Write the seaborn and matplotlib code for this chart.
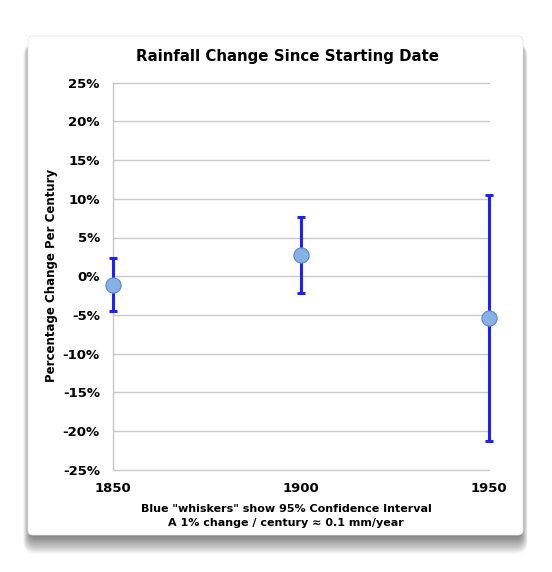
import matplotlib
matplotlib.use("Agg")
import matplotlib.pyplot as plt
from matplotlib.patches import FancyBboxPatch
import pandas as pd
import seaborn as sns

# data
start_years = [1850, 1900, 1950]
change_pct = [-1.1, 2.7, -5.4]
ci_low = [-4.5, -2.2, -21.3]
ci_high = [2.3, 7.7, 10.5]
y_ticks = [-25, -20, -15, -10, -5, 0, 5, 10, 15, 20, 25]

sns.set_style("white")
plt.rcParams['font.family'] = ['DejaVu Sans']
plt.rcParams['text.color'] = 'black'
plt.rcParams['xtick.color'] = 'black'
plt.rcParams['ytick.color'] = 'black'

df = pd.DataFrame({"year": start_years, "change": change_pct,
                   "low": ci_low, "high": ci_high})

W, H = 552, 572
fig = plt.figure(figsize=(W / 100, H / 100), dpi=100)

# card with soft drop shadow, drawn in pixel coordinates
bg = fig.add_axes([0, 0, 1, 1], zorder=0)
bg.set_xlim(0, W)
bg.set_ylim(H, 0)
bg.axis('off')
cx, cy, cw, ch = 28, 36, 495, 499
for i in range(18):
    bg.add_patch(FancyBboxPatch((cx + 3 - i * 0.45, cy + 8), cw - 6 + i * 0.9, ch - 8 + i * 1.1,
                                boxstyle="round,pad=0,rounding_size=%.1f" % (4 + i * 0.5),
                                fc='black', ec='none', alpha=0.035))
bg.add_patch(FancyBboxPatch((cx, cy), cw, ch,
                            boxstyle="round,pad=0,rounding_size=5",
                            fc='white', ec='#e4e4e4', lw=0.6))

# plot area
ax = fig.add_axes([113 / W, 1 - 469.7 / H, 376 / W, 387 / H], zorder=1)
ax.set_facecolor('none')

eb = ax.errorbar(df["year"], df["change"],
                 yerr=[df["change"] - df["low"], df["high"] - df["change"]],
                 fmt='none', ecolor='#1f1fff', elinewidth=2.2,
                 capsize=3, capthick=2.2, zorder=4)
for art in eb.get_children():
    art.set_clip_on(False)

sns.scatterplot(data=df, x="year", y="change", s=120, color='#86b0e6',
                edgecolor='#5a88c6', linewidth=0.8, zorder=5,
                clip_on=False, ax=ax, legend=False)

ax.set_xlim(1850, 1950)
ax.set_ylim(-25, 25)
ax.set_yticks(y_ticks)
ax.set_yticklabels([f"{v}%" for v in y_ticks], fontweight='bold', fontsize=9.5)
ax.set_xticks(start_years)
ax.set_xticklabels([str(v) for v in start_years], fontweight='bold', fontsize=9.5)
ax.tick_params(axis='y', length=3, color='#c8c8c8', width=1, pad=6.5, labelcolor='black')
ax.tick_params(axis='x', length=0, pad=9, labelcolor='black')
ax.yaxis.grid(True, color='#c8c8c8', lw=1)
ax.xaxis.grid(False)
for line in ax.get_ygridlines():
    line.set_clip_on(False)
for side in ['top', 'right', 'bottom']:
    ax.spines[side].set_visible(False)
ax.spines['left'].set_color('#c8c8c8')
ax.spines['left'].set_linewidth(1)
ax.set_xlabel("")
ax.set_ylabel("")

fig.text(288 / W, 1 - 57 / H, "Rainfall Change Since Starting Date",
         ha='center', va='center', fontweight='bold', fontsize=10.8)
fig.text(52 / W, 1 - 275 / H, "Percentage Change Per Century",
         ha='center', va='center', rotation=90, fontweight='bold', fontsize=8.5)
fig.text(286 / W, 1 - 509 / H, 'Blue "whiskers" show 95% Confidence Interval',
         ha='center', va='center', fontweight='bold', fontsize=8)
fig.text(286 / W, 1 - 523 / H, 'A 1% change / century \u2248 0.1 mm/year',
         ha='center', va='center', fontweight='bold', fontsize=8)

fig.savefig("out.png", dpi=100)
